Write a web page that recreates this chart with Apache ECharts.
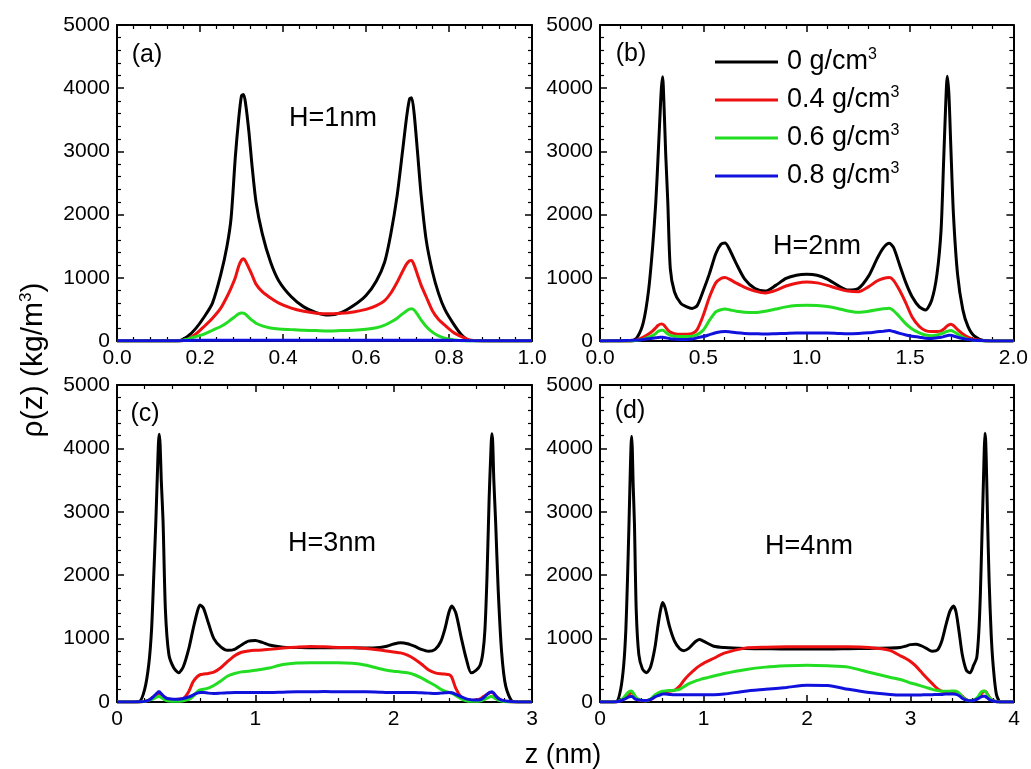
<!DOCTYPE html>
<html>
<head>
<meta charset="utf-8">
<script src="https://cdn.jsdelivr.net/npm/echarts@6/dist/echarts.min.js"></script>
<style>
  html, body { margin: 0; padding: 0; background: #ffffff; }
  #chart { width: 1031px; height: 769px; background: #ffffff; }
</style>
</head>
<body>
<div id="chart"></div>
<script>
// Density profiles rho(z) of confined fluid for four bulk densities, H = 1..4 nm

const seriesNames = ['0 g/cm³', '0.4 g/cm³', '0.6 g/cm³', '0.8 g/cm³'];

// ---- (a) H = 1 nm ----
const zA = [0, 0.1, 0.15, 0.17, 0.19, 0.21, 0.23, 0.25, 0.265, 0.275,
  0.285, 0.293, 0.3, 0.305, 0.31, 0.318, 0.325, 0.335, 0.35, 0.37,
  0.39, 0.42, 0.45, 0.48, 0.51, 0.54, 0.57, 0.6, 0.625, 0.645,
  0.66, 0.675, 0.688, 0.698, 0.705, 0.71, 0.716, 0.724, 0.733, 0.745,
  0.76, 0.775, 0.79, 0.81, 0.83, 0.85, 0.9, 1.0];
const rhoA0 = [0, 0, 5, 70, 200, 380, 600, 1050, 1500, 1950,
  2900, 3500, 3880, 3900, 3750, 3300, 2800, 2200, 1700, 1250,
  950, 700, 540, 450, 410, 450, 560, 720, 950, 1250,
  1700, 2300, 3000, 3550, 3830, 3850, 3600, 3000, 2300, 1600,
  1100, 750, 500, 280, 100, 10, 0, 0];
const rhoA4 = [0, 0, 0, 25, 110, 230, 360, 520, 700, 840,
  1000, 1180, 1280, 1300, 1260, 1150, 1050, 900, 780, 680,
  600, 520, 470, 440, 430, 440, 460, 500, 560, 640,
  760, 930, 1100, 1220, 1270, 1275, 1200, 1050, 880, 700,
  480, 340, 250, 140, 70, 15, 0, 0];
const rhoA6 = [0, 0, 0, 30, 70, 110, 170, 230, 290, 340,
  390, 430, 445, 440, 420, 370, 330, 280, 240, 205,
  190, 180, 170, 165, 160, 165, 170, 185, 210, 250,
  300, 360, 430, 480, 505, 510, 490, 420, 330, 230,
  140, 80, 45, 20, 5, 0, 0, 0];
const rhoA8 = [5, 5, 5, 8, 10, 10, 12, 12, 12, 12,
  12, 12, 12, 12, 12, 12, 12, 12, 12, 12,
  12, 12, 12, 12, 12, 12, 12, 12, 12, 12,
  12, 12, 12, 12, 12, 12, 12, 12, 12, 12,
  12, 12, 12, 10, 8, 5, 5, 5];

// ---- (b) H = 2 nm ----
const zB = [0, 0.1, 0.15, 0.18, 0.21, 0.235, 0.255, 0.27, 0.28, 0.29,
  0.297, 0.303, 0.31, 0.318, 0.328, 0.34, 0.36, 0.39, 0.42, 0.445,
  0.47, 0.5, 0.53, 0.56, 0.585, 0.605, 0.625, 0.66, 0.7, 0.75,
  0.8, 0.85, 0.9, 0.95, 1.0, 1.05, 1.1, 1.15, 1.2, 1.25,
  1.3, 1.34, 1.37, 1.4, 1.42, 1.45, 1.48, 1.51, 1.545, 1.575,
  1.605, 1.63, 1.65, 1.662, 1.672, 1.68, 1.688, 1.697, 1.71, 1.73,
  1.755, 1.78, 1.81, 1.86, 1.9, 2.0];
const rhoB0 = [0, 0, 0, 60, 300, 800, 1500, 2200, 2850, 3550,
  4000, 4180, 3700, 2950, 2200, 1150, 780, 600, 540, 515,
  560, 800, 1070, 1380, 1530, 1550, 1460, 1220, 980, 830,
  790, 880, 990, 1040, 1055, 1040, 980, 880, 805, 830,
  1030, 1300, 1470, 1545, 1480, 1200, 920, 700, 540, 490,
  650, 1050, 1750, 2800, 3700, 4190, 3900, 3100, 2000, 1050,
  500, 230, 80, 5, 0, 0];
const rhoB4 = [0, 0, 0, 20, 60, 110, 160, 210, 245, 265,
  270, 265, 250, 215, 175, 140, 115, 105, 105, 115,
  180, 410, 700, 920, 990, 1005, 980, 915, 850, 790,
  760, 800, 870, 915, 935, 920, 880, 830, 790, 780,
  860, 950, 990, 1005, 960, 800, 600, 380, 230, 165,
  150, 150, 160, 185, 215, 240, 255, 265, 245, 180,
  110, 60, 25, 5, 0, 0];
const rhoB6 = [0, 0, 0, 10, 30, 60, 90, 120, 150, 165,
  170, 170, 160, 135, 110, 90, 75, 70, 70, 75,
  100, 175, 330, 460, 495, 505, 495, 470, 455, 450,
  470, 505, 540, 560, 565, 560, 545, 515, 475, 455,
  470, 495, 510, 520, 480, 380, 270, 190, 130, 95,
  85, 95, 115, 130, 145, 155, 160, 165, 150, 110,
  60, 30, 10, 0, 0, 0];
const rhoB8 = [0, 5, 10, 15, 25, 35, 45, 50, 55, 60,
  60, 60, 55, 50, 45, 35, 30, 25, 25, 30,
  50, 70, 100, 130, 145, 150, 145, 130, 120, 115,
  110, 115, 120, 125, 125, 125, 125, 120, 115, 120,
  130, 145, 155, 165, 150, 120, 95, 75, 60, 45,
  40, 50, 60, 70, 80, 85, 90, 90, 80, 60,
  40, 25, 10, 5, 0, 0];

// ---- (c) H = 3 nm ----
const zC = [0, 0.1, 0.16, 0.2, 0.23, 0.25, 0.265, 0.28, 0.292, 0.3,
  0.306, 0.312, 0.32, 0.333, 0.35, 0.375, 0.41, 0.445, 0.48, 0.52,
  0.55, 0.58, 0.6, 0.625, 0.66, 0.7, 0.75, 0.8, 0.85, 0.9,
  0.95, 1.0, 1.05, 1.1, 1.2, 1.3, 1.4, 1.5, 1.6, 1.7,
  1.8, 1.9, 1.95, 2.0, 2.05, 2.1, 2.15, 2.2, 2.25, 2.3,
  2.34, 2.37, 2.4, 2.42, 2.45, 2.49, 2.525, 2.56, 2.595, 2.625,
  2.645, 2.66, 2.675, 2.69, 2.7, 2.71, 2.716, 2.724, 2.737, 2.755,
  2.78, 2.81, 2.86, 2.93, 3.0];
const rhoC0 = [0, 0, 5, 200, 600, 1150, 1950, 2800, 3600, 4100,
  4225, 4050, 3500, 2850, 1450, 750, 540, 460, 560, 850,
  1150, 1420, 1530, 1480, 1250, 1000, 870, 815, 830, 900,
  960, 970, 940, 900, 865, 860, 855, 855, 855, 855,
  850, 860, 880, 915, 935, 920, 880, 830, 800, 830,
  950, 1150, 1420, 1515, 1400, 1000, 680, 460, 500, 580,
  780, 1150, 2000, 3200, 3800, 4230, 4100, 3500, 2850, 1800,
  800, 250, 10, 0, 0];
const rhoC4 = [0, 0, 0, 10, 30, 60, 80, 100, 120, 135,
  140, 135, 120, 95, 65, 45, 40, 45, 55, 170,
  320, 400, 430, 440, 450, 470, 540, 640, 730, 785,
  805, 815, 820, 830, 850, 865, 875, 870, 860, 860,
  845, 820, 805, 790, 775, 740, 680, 600, 510, 460,
  445, 440, 430, 390, 210, 70, 30, 25, 30, 50,
  80, 100, 120, 140, 150, 150, 145, 130, 100, 60,
  30, 10, 0, 0, 0];
const rhoC6 = [0, 0, 0, 10, 25, 40, 55, 70, 80, 85,
  85, 80, 70, 50, 30, 15, 10, 10, 20, 40,
  90, 160, 190, 200, 220, 260, 330, 410, 450, 475,
  485, 500, 515, 535, 590, 615, 620, 620, 620, 610,
  580, 525, 500, 485, 475, 460, 430, 380, 320, 260,
  200, 170, 150, 140, 100, 50, 20, 10, 10, 15,
  30, 45, 60, 75, 85, 85, 80, 70, 50, 30,
  15, 5, 0, 0, 0];
const rhoC8 = [0, 0, 5, 10, 30, 60, 90, 120, 145, 160,
  160, 150, 130, 100, 70, 50, 45, 45, 55, 80,
  110, 140, 150, 150, 140, 135, 140, 145, 150, 150,
  150, 150, 150, 150, 155, 160, 160, 165, 160, 160,
  160, 155, 150, 150, 150, 150, 150, 145, 140, 135,
  140, 145, 150, 145, 120, 80, 50, 35, 30, 35,
  60, 90, 120, 145, 155, 160, 155, 140, 100, 60,
  30, 15, 5, 0, 0];

// ---- (d) H = 4 nm ----
const zD = [0, 0.1, 0.16, 0.2, 0.23, 0.25, 0.265, 0.28, 0.292, 0.3,
  0.306, 0.312, 0.32, 0.333, 0.35, 0.375, 0.41, 0.45, 0.49, 0.53,
  0.56, 0.585, 0.605, 0.63, 0.67, 0.72, 0.77, 0.81, 0.86, 0.92,
  0.96, 1.0, 1.1, 1.2, 1.4, 1.6, 1.8, 2.0, 2.2, 2.4,
  2.6, 2.8, 2.9, 2.95, 3.0, 3.05, 3.1, 3.15, 3.21, 3.26,
  3.3, 3.34, 3.38, 3.415, 3.44, 3.47, 3.5, 3.54, 3.575, 3.61,
  3.64, 3.66, 3.675, 3.69, 3.705, 3.713, 3.72, 3.727, 3.735, 3.745,
  3.76, 3.78, 3.8, 3.83, 3.87, 3.93, 4.0];
const rhoD0 = [0, 0, 5, 200, 600, 1150, 1900, 2800, 3600, 4050,
  4190, 4000, 3450, 2800, 1450, 750, 520, 460, 560, 850,
  1200, 1450, 1570, 1480, 1200, 960, 840, 810, 850, 950,
  985, 960, 880, 860, 845, 840, 835, 835, 835, 840,
  845, 850, 860, 880, 905, 910, 890, 850, 800, 820,
  950, 1200, 1430, 1515, 1420, 1100, 750, 500, 460, 580,
  700, 1100, 1700, 2600, 3500, 4000, 4240, 4100, 3600, 2850,
  1900, 1050, 550, 120, 0, 0, 0];
const rhoD4 = [0, 0, 0, 20, 50, 80, 100, 120, 140, 150,
  150, 145, 130, 100, 60, 30, 20, 20, 40, 80,
  120, 140, 150, 160, 170, 185, 250, 340, 430, 520,
  570, 610, 690, 770, 850, 865, 870, 870, 870, 870,
  860, 815, 730, 690, 640, 570, 480, 390, 290, 210,
  170, 155, 150, 150, 145, 130, 90, 40, 20, 30,
  50, 80, 110, 140, 160, 170, 170, 165, 150, 120,
  80, 40, 20, 5, 0, 0, 0];
const rhoD6 = [0, 0, 5, 30, 70, 110, 140, 160, 170, 175,
  175, 165, 145, 110, 70, 40, 25, 20, 50, 110,
  140, 160, 170, 175, 180, 185, 200, 240, 290, 330,
  350, 370, 410, 450, 510, 550, 570, 580, 570, 550,
  470, 390, 355, 330, 300, 280, 255, 230, 200, 180,
  170, 170, 170, 175, 170, 140, 80, 30, 20, 30,
  60, 100, 140, 165, 175, 175, 170, 160, 140, 110,
  70, 40, 20, 5, 0, 0, 0];
const rhoD8 = [0, 0, 5, 20, 40, 55, 70, 80, 85, 90,
  90, 85, 75, 55, 40, 30, 25, 25, 40, 80,
  100, 115, 125, 125, 120, 115, 115, 115, 115, 115,
  115, 115, 115, 125, 170, 200, 230, 265, 260, 200,
  150, 120, 110, 110, 110, 110, 110, 115, 115, 120,
  120, 125, 125, 125, 120, 100, 60, 30, 20, 25,
  40, 60, 75, 85, 90, 90, 90, 85, 75, 60,
  40, 25, 15, 5, 0, 0, 0];

// ---- panel set-up ----
const FONT = '"Liberation Sans", Arial, Helvetica, sans-serif';
const lineColors = ['#000000', '#ee1111', '#22dd22', '#1111dd'];

const panels = [
  { z: zA, rho: [rhoA0, rhoA4, rhoA6, rhoA8], xMax: 1, xStep: 0.2, dec: 1,
    grid: { left: 117, top: 25, width: 415, height: 316 } },
  { z: zB, rho: [rhoB0, rhoB4, rhoB6, rhoB8], xMax: 2, xStep: 0.5, dec: 1,
    grid: { left: 600, top: 25, width: 414, height: 316 } },
  { z: zC, rho: [rhoC0, rhoC4, rhoC6, rhoC8], xMax: 3, xStep: 1, dec: 0,
    grid: { left: 117, top: 385, width: 415, height: 317 } },
  { z: zD, rho: [rhoD0, rhoD4, rhoD6, rhoD8], xMax: 4, xStep: 1, dec: 0,
    grid: { left: 600, top: 385, width: 414, height: 317 } }
];

// Framed axes: inward major and minor ticks on all four sides, labels on bottom/left only.
function axisCommon(showLabel) {
  return {
    axisLine: { show: true, onZero: false, lineStyle: { color: '#000', width: 2 } },
    axisTick: { show: true, inside: true, length: 7, lineStyle: { color: '#000', width: 1.5 } },
    minorTick: { show: true, splitNumber: 5, length: 4, lineStyle: { color: '#000', width: 1.2 } },
    splitLine: { show: false },
    axisLabel: { show: showLabel, margin: 7, color: '#000', fontSize: 21, fontFamily: FONT }
  };
}

const grids = [], xAxes = [], yAxes = [], series = [];
panels.forEach((p, gi) => {
  grids.push(p.grid);
  const xi = xAxes.length, yi = yAxes.length;

  const xb = axisCommon(true);
  xb.axisLabel.formatter = v => v.toFixed(p.dec);
  xAxes.push(Object.assign({ gridIndex: gi, type: 'value', min: 0, max: p.xMax,
    interval: p.xStep, position: 'bottom' }, xb));
  xAxes.push(Object.assign({ gridIndex: gi, type: 'value', min: 0, max: p.xMax,
    interval: p.xStep, position: 'top' }, axisCommon(false)));

  const yl = axisCommon(true);
  yl.axisLabel.formatter = v => String(v);
  yAxes.push(Object.assign({ gridIndex: gi, type: 'value', min: 0, max: 5000,
    interval: 1000, position: 'left' }, yl));
  yAxes.push(Object.assign({ gridIndex: gi, type: 'value', min: 0, max: 5000,
    interval: 1000, position: 'right' }, axisCommon(false)));

  p.rho.forEach((vals, si) => {
    series.push({
      name: seriesNames[si],
      type: 'line',
      xAxisIndex: xi,
      yAxisIndex: yi,
      data: p.z.map((z, i) => [z, vals[i]]),
      showSymbol: false,
      smooth: 0.25,
      lineStyle: { color: lineColors[si], width: 3 }
    });
  });
});

function txt(x, y, text, size) {
  return {
    type: 'text', x: x, y: y,
    style: { text: text, font: size + 'px ' + FONT, fill: '#000',
      align: 'center', verticalAlign: 'middle' }
  };
}

const chart = echarts.init(document.getElementById('chart'));
chart.setOption({ grid: grids, xAxis: xAxes, yAxis: yAxes, series: series });

// Key in panel (b): a line swatch and a label with superscript for each series.
const keyRows = [62, 100, 138, 176];
const keyEls = [];
seriesNames.forEach((name, i) => {
  keyEls.push({ type: 'line', shape: { x1: 715, y1: keyRows[i], x2: 778, y2: keyRows[i] },
    style: { stroke: lineColors[i], lineWidth: 3 } });
  keyEls.push({ type: 'text', x: 787, y: keyRows[i],
    style: {
      text: '{t|' + name.replace('³', '') + '}{s|3}',
      align: 'left', verticalAlign: 'middle',
      rich: {
        t: { fontSize: 27, fontFamily: FONT, fill: '#000', lineHeight: 30 },
        s: { fontSize: 16, fontFamily: FONT, fill: '#000', lineHeight: 17, verticalAlign: 'top' }
      }
    } });
});

chart.setOption({
  graphic: keyEls.concat([
    txt(147, 55, '(a)', 25),
    txt(631, 54, '(b)', 25),
    txt(145, 414, '(c)', 25),
    txt(630, 411, '(d)', 25),
    txt(333, 119, 'H=1nm', 27),
    txt(817, 247, 'H=2nm', 27),
    txt(332, 544, 'H=3nm', 27),
    txt(809, 547, 'H=4nm', 27),
    txt(563, 756, 'z (nm)', 27),
    {
      type: 'text', x: 34, y: 360, rotation: Math.PI / 2,
      style: {
        text: '{t|ρ(z) (kg/m}{s|3}{t|)}',
        align: 'center', verticalAlign: 'middle',
        rich: {
          t: { fontSize: 30, fontFamily: FONT, fill: '#000', lineHeight: 33 },
          s: { fontSize: 17, fontFamily: FONT, fill: '#000', lineHeight: 18, verticalAlign: 'top' }
        }
      }
    }
  ])
});
</script>
</body>
</html>
